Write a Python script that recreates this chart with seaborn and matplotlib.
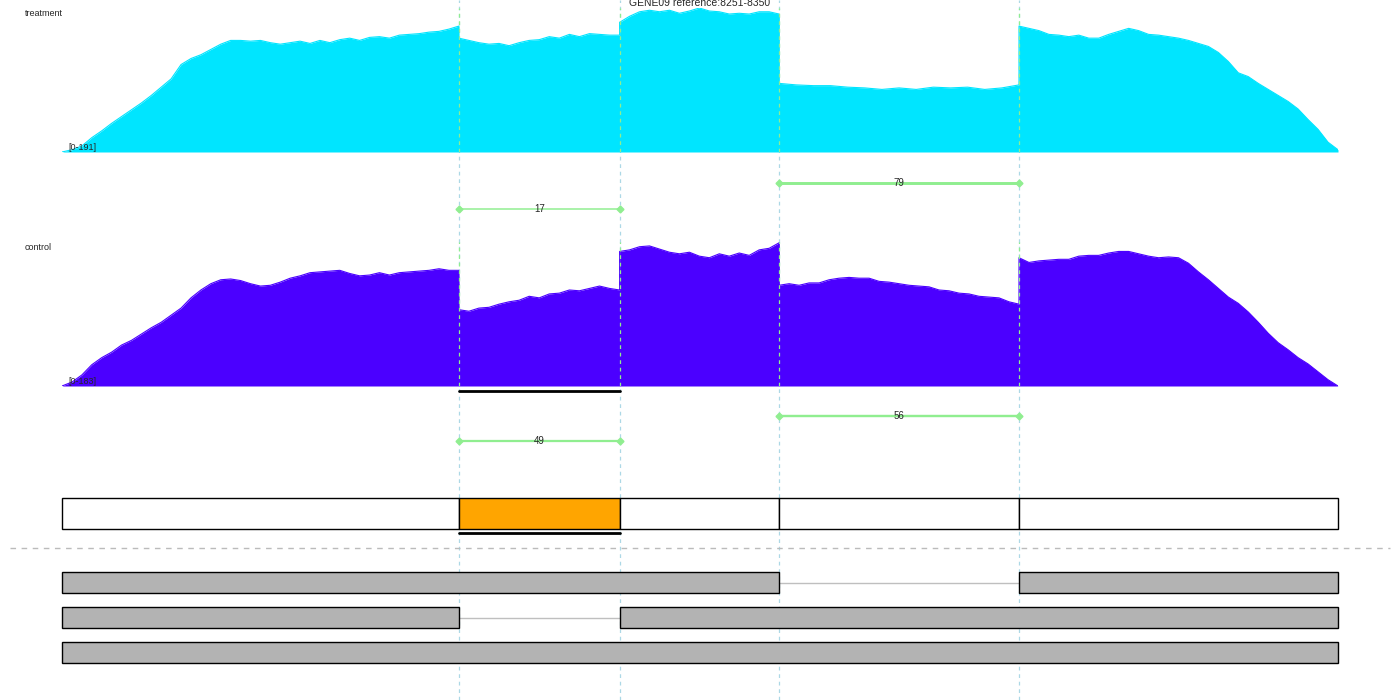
import matplotlib
matplotlib.use("Agg")
import matplotlib.pyplot as plt
from matplotlib.patches import Rectangle
import numpy as np
import seaborn as sns

# gene region and exon boundaries (genomic coordinates)
region_start, region_end = 8251, 8351
exon_starts = [8251, 8282.1, 8294.7, 8307.2, 8326.0]
exon_ends = [8282.1, 8294.7, 8307.2, 8326.0, 8351]
highlight_exon = 1

# coverage per exon, sampled evenly from exon start to exon end
treat_cov = [
    [0, 3, 8, 19, 28, 38, 47, 56, 65, 75, 86, 97, 116, 124, 129, 136, 143, 148, 148, 147, 148,
     145, 143, 145, 147, 144, 148, 145, 149, 151, 148, 152, 153, 151, 155, 156, 157, 159, 160, 163, 167],
    [151, 148, 145, 143, 144, 141, 145, 148, 149, 153, 151, 156, 153, 157, 156, 155, 155],
    [172, 180, 186, 188, 186, 188, 184, 187, 191, 187, 186, 183, 184, 183, 186, 186, 183],
    [91, 89, 88, 88, 86, 85, 83, 85, 83, 86, 85, 86, 83, 85, 89],
    [167, 164, 161, 156, 155, 153, 155, 151, 151, 156, 160, 164, 161, 156, 155, 153, 151, 148, 144,
     140, 132, 120, 105, 100, 91, 83, 75, 67, 57, 43, 30, 13, 3],
]
ctrl_cov = [
    [0, 5, 14, 27, 36, 43, 52, 58, 66, 74, 81, 90, 99, 112, 122, 130, 135, 136, 134, 130, 127,
     128, 132, 137, 140, 144, 145, 146, 147, 143, 140, 141, 144, 141, 144, 145, 146, 147, 149, 147, 147],
    [97, 95, 99, 100, 104, 107, 109, 114, 112, 117, 118, 122, 121, 124, 127, 124, 122],
    [171, 173, 177, 178, 174, 170, 168, 170, 165, 163, 168, 165, 169, 166, 173, 175, 182],
    [128, 130, 128, 131, 131, 135, 137, 138, 137, 137, 133, 132, 130, 128, 127, 126, 122, 121,
     118, 117, 114, 113, 112, 107, 104],
    [163, 157, 159, 160, 161, 161, 165, 166, 166, 169, 171, 171, 168, 165, 163, 164, 163, 156,
     145, 135, 124, 113, 105, 94, 81, 67, 55, 46, 36, 28, 18, 8, 0],
]
treat_max, ctrl_max = 191, 183

# junctions: (start, end, reads)
treat_junctions = [(8307.2, 8326.0, 79), (8282.1, 8294.7, 17)]
ctrl_junctions = [(8307.2, 8326.0, 56), (8282.1, 8294.7, 49)]

# transcripts as lists of exon blocks
transcripts = [
    [(8251, 8307.2), (8326.0, 8351)],
    [(8251, 8282.1), (8294.7, 8351)],
    [(8251, 8351)],
]

sns.set_style("white")
plt.rcParams['font.family'] = ['Liberation Sans', 'DejaVu Sans']

W, H = 1400, 700
fig = plt.figure(figsize=(14, 7), dpi=100)
px = 1276 / (region_end - region_start)

# overlay axis in pixel-like vertical units
ax = fig.add_axes([0, 0, 1, 1])
ax.set_xlim(region_start - 62 / px, region_end + (W - 1338) / px)
ax.set_ylim(H, 0)
ax.axis("off")


def coverage_track(cov, ymax, top, color, name, label):
    cax = fig.add_axes([62 / W, (H - top - 144) / H, 1276 / W, 144 / H])
    xs, ys = [], []
    for s, e, vals in zip(exon_starts, exon_ends, cov):
        xs.extend(np.linspace(s, e, len(vals)))
        ys.extend(vals)
    xs, ys = np.array(xs), np.array(ys)
    cax.fill_between(xs, 0, ys, color=color, lw=0)
    sns.lineplot(x=xs, y=ys, ax=cax, color=color, lw=0.8, sort=False, estimator=None)
    for b in exon_starts[1:]:
        cax.axvline(b, color="lightgreen", ls=(0, (3, 3)), lw=0.9, zorder=5)
    cax.set_xlim(region_start, region_end)
    cax.set_ylim(0, ymax)
    cax.axis("off")
    fig.text(25 / W, 1 - (top + 6) / H, name, fontsize=6.5, va="center")
    fig.text(68 / W, 1 - (top + 139) / H, label, fontsize=6.5, va="center")


for b in exon_starts[1:]:
    ax.axvline(b, color="lightblue", ls=(0, (3, 3)), lw=0.9, zorder=0)

coverage_track(treat_cov, treat_max, 8, "#00E5FF", "treatment", f"[0-{treat_max}]")
coverage_track(ctrl_cov, ctrl_max, 242, "#4B00FF", "control", f"[0-{ctrl_max}]")


def junction_row(juncs, ys):
    for (s, e, n), y in zip(juncs, ys):
        ax.plot([s, e], [y, y], color="#90EE90", lw=0.8 + n / 60, marker="D", ms=3.5,
                zorder=3)
        ax.text((s + e) / 2, y, str(n), fontsize=7, ha="center", va="center", zorder=4)


junction_row(treat_junctions, [183, 209])
junction_row(ctrl_junctions, [416, 441])

# exon row
for i, (s, e) in enumerate(zip(exon_starts, exon_ends)):
    fc = "orange" if i == highlight_exon else "white"
    ax.add_patch(Rectangle((s, 498), e - s, 31, facecolor=fc, edgecolor="black", lw=1, zorder=2))

hs, he = exon_starts[highlight_exon], exon_ends[highlight_exon]
ax.plot([hs, he], [390.5, 390.5], color="black", lw=2, zorder=3)
ax.plot([hs, he], [533, 533], color="black", lw=2, zorder=3)

# separator
ax.axhline(548, xmin=10 / W, xmax=1390 / W, color="#BBBBBB", ls=(0, (4, 4)), lw=1)

# transcripts
row_tops = [572, 607, 642]
for blocks, top in zip(transcripts, row_tops):
    for (s, e), (s2, _) in zip(blocks[:-1], blocks[1:]):
        ax.plot([e, s2], [top + 10.5, top + 10.5], color="#BFBFBF", lw=1, zorder=1)
    for s, e in blocks:
        ax.add_patch(Rectangle((s, top), e - s, 21, facecolor="#B3B3B3", edgecolor="black",
                               lw=1, zorder=2))

fig.text(0.5, 1 - 3 / H, f"GENE09 reference:{region_start}-{region_end - 1}", fontsize=7.5,
         ha="center", va="center")

fig.savefig("out.png", dpi=100)
